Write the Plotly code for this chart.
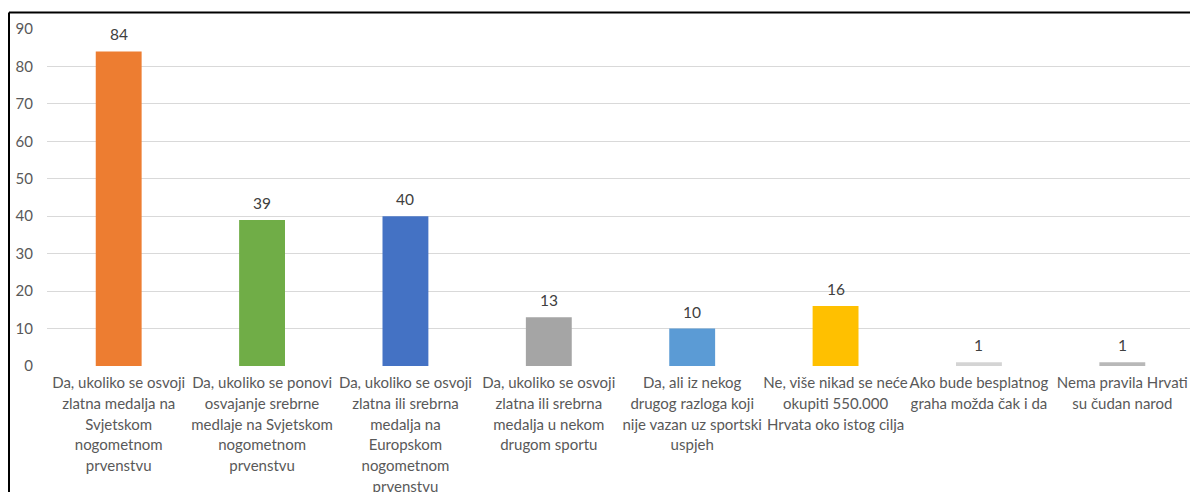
import plotly.graph_objects as go

categories = [
    "Da, ukoliko se osvoji<br>zlatna medalja na<br>Svjetskom<br>nogometnom<br>prvenstvu",
    "Da, ukoliko se ponovi<br>osvajanje srebrne<br>medlaje na Svjetskom<br>nogometnom<br>prvenstvu",
    "Da, ukoliko se osvoji<br>zlatna ili srebrna<br>medalja na<br>Europskom<br>nogometnom<br>prvenstvu",
    "Da, ukoliko se osvoji<br>zlatna ili srebrna<br>medalja u nekom<br>drugom sportu",
    "Da, ali iz nekog<br>drugog razloga koji<br>nije vazan uz sportski<br>uspjeh",
    "Ne, više nikad se neće<br>okupiti 550.000<br>Hrvata oko istog cilja",
    "Ako bude besplatnog<br>graha možda čak i da",
    "Nema pravila Hrvati<br>su čudan narod",
]
values = [84, 39, 40, 13, 10, 16, 1, 1]
colors = ["#ED7D31", "#70AD47", "#4472C4", "#A5A5A5", "#5B9BD5", "#FFC000", "#D4D4D4", "#B8B8B8"]
y_ticks = [0, 10, 20, 30, 40, 50, 60, 70, 80, 90]

FONT = "Lato, 'Noto Sans', sans-serif"

def wrap(label):
    return "<br>".join('<span style="font-size:15px">' + p + "</span>" for p in label.split("<br>"))

x_idx = list(range(len(categories)))

fig = go.Figure()
fig.add_trace(go.Bar(
    x=x_idx, y=values, marker=dict(color=colors, line=dict(width=0)),
    width=0.32, hoverinfo="skip",
))

for xi, v in zip(x_idx, values):
    fig.add_annotation(x=xi, y=v, text=str(v), showarrow=False, yanchor="bottom",
                       yshift=6, font=dict(family=FONT, size=15.5, color="#404040"))

# page offset of 8px (body margin) compensated
OFF = 8
W, H = 1198 - OFF, 492 - OFF
L, R, T, B = 47 - OFF, 4, 29 - OFF, 126
pw, ph = W - L - R, H - T - B
def px(xp): return (xp - OFF - L) / pw
def py(yp): return (H - B - (yp - OFF)) / ph

fig.add_shape(type="line", xref="paper", yref="paper", x0=px(9), x1=px(1220), y0=py(12.5), y1=py(12.5),
              line=dict(color="black", width=2))
fig.add_shape(type="line", xref="paper", yref="paper", x0=px(9), x1=px(9), y0=py(12.5), y1=py(510),
              line=dict(color="black", width=2))

fig.update_layout(
    width=W, height=H,
    margin=dict(l=L, r=R, t=T, b=B, autoexpand=False),
    plot_bgcolor="white", paper_bgcolor="white",
    showlegend=False,
    font=dict(family=FONT, color="#595959"),
    xaxis=dict(
        range=[-0.5, len(categories) - 0.5],
        tickmode="array", tickvals=x_idx, ticktext=[wrap(c) for c in categories],
        tickfont=dict(family=FONT, size=16, color="#595959"),
        tickangle=0,
        showgrid=False, zeroline=False, showline=False, ticks="", automargin=False,
        ticklabelstandoff=5,
    ),
    yaxis=dict(
        range=[0, 90], tickmode="array", tickvals=y_ticks,
        tickfont=dict(family=FONT, size=15, color="#595959"),
        showgrid=True, gridcolor="#D9D9D9", gridwidth=1.3,
        zeroline=False, showline=False, ticks="", automargin=False,
        ticklabelstandoff=13,
    ),
)

fig.write_html("out.html")
